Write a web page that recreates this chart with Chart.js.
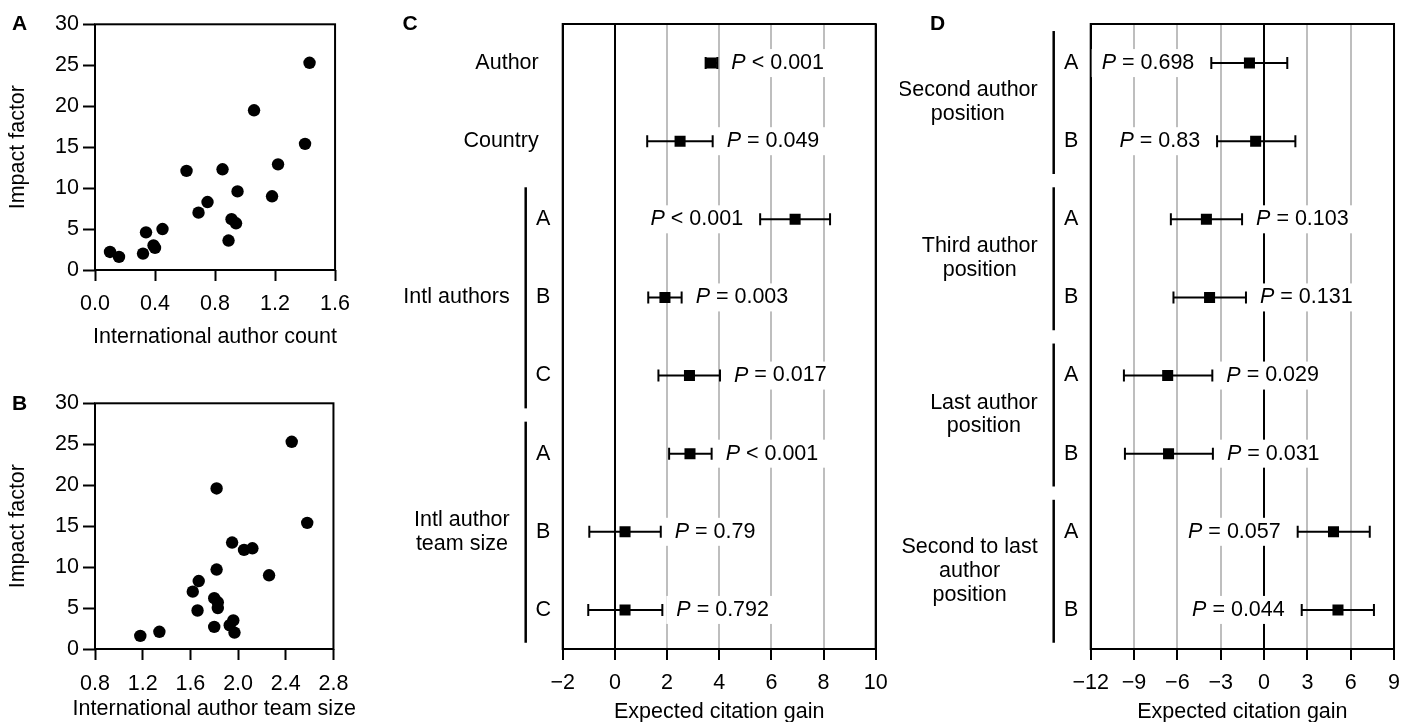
<!DOCTYPE html>
<html>
<head>
<meta charset="utf-8">
<script src="https://cdn.jsdelivr.net/npm/chart.js@4.4.1/dist/chart.umd.min.js"></script>
<style>
  body { margin: 0; background: #fff; }
  #wrap { position: relative; width: 1410px; height: 722px; overflow: hidden; }
  canvas { position: absolute; }
</style>
</head>
<body>
<div id="wrap">
  <canvas id="chartA" width="360" height="360" style="left:0px;top:0px"></canvas>
  <canvas id="chartB" width="360" height="362" style="left:0px;top:360px"></canvas>
  <canvas id="chartC" width="540" height="722" style="left:360px;top:0px"></canvas>
  <canvas id="chartD" width="510" height="722" style="left:900px;top:0px"></canvas>
</div>
<script>
// ---- panel A: impact factor vs international author count
const A_COUNT  = [0.10, 0.16, 0.32, 0.34, 0.39, 0.40, 0.45, 0.61, 0.69, 0.75, 0.85, 0.89, 0.91, 0.94, 0.95, 1.06, 1.18, 1.22, 1.40, 1.43];
const A_IMPACT = [2.2, 1.6, 2.0, 4.6, 3.0, 2.7, 5.0, 12.1, 7.0, 8.3, 12.3, 3.6, 6.2, 5.7, 9.6, 19.5, 9.0, 12.9, 15.4, 25.3];
const A_XTICKS  = [0, 0.4, 0.8, 1.2, 1.6];
const A_XLABELS = ['0.0', '0.4', '0.8', '1.2', '1.6'];

// ---- panel B: impact factor vs international author team size
const B_TEAM   = [1.18, 1.34, 1.62, 1.66, 1.67, 1.80, 1.80, 1.82, 1.82, 1.83, 1.83, 1.93, 1.95, 1.96, 1.97, 2.05, 2.12, 2.26, 2.45, 2.58];
const B_IMPACT = [1.6, 2.1, 7.0, 4.7, 8.3, 6.2, 2.7, 19.6, 9.7, 5.7, 5.0, 2.9, 13.0, 3.5, 2.0, 12.1, 12.3, 9.0, 25.3, 15.4];
const B_XTICKS  = [0.8, 1.2, 1.6, 2.0, 2.4, 2.8];
const B_XLABELS = ['0.8', '1.2', '1.6', '2.0', '2.4', '2.8'];

const IF_TICKS = [0, 5, 10, 15, 20, 25, 30];

// ---- panel C: expected citation gain
const C_LABELS = ['Author', 'Country', '', '', '', '', '', ''];
const C_SUB    = ['', '', 'A', 'B', 'C', 'A', 'B', 'C'];
const C_GROUPS = [['Intl authors'], ['Intl author', 'team size']];
const C_FROM   = [3, 6];
const C_TO     = [5, 8];
const C_EST    = [3.70, 2.50, 6.91, 1.92, 2.86, 2.88, 0.39, 0.39];
const C_LO     = [3.48, 1.24, 5.57, 1.28, 1.67, 2.08, -0.98, -1.02];
const C_HI     = [3.93, 3.75, 8.25, 2.56, 4.03, 3.71, 1.76, 1.82];
const C_P      = ['< 0.001', '= 0.049', '< 0.001', '= 0.003', '= 0.017', '< 0.001', '= 0.79', '= 0.792'];
const C_SIDE   = ['right', 'right', 'left', 'right', 'right', 'right', 'right', 'right'];
const C_TICKS  = [-2, 0, 2, 4, 6, 8, 10];
const C_TICKLABELS = ['\u22122', '0', '2', '4', '6', '8', '10'];

// ---- panel D: expected citation gain by author position
const D_LABELS = ['', '', '', '', '', '', '', ''];
const D_SUB    = ['A', 'B', 'A', 'B', 'A', 'B', 'A', 'B'];
const D_GROUPS = [['Second author', 'position'], ['Third author', 'position'], ['Last author', 'position'], ['Second to last', 'author', 'position']];
const D_FROM   = [1, 3, 5, 7];
const D_TO     = [2, 4, 6, 8];
const D_EST    = [-1.01, -0.58, -3.99, -3.77, -6.67, -6.61, 4.81, 5.12];
const D_LO     = [-3.65, -3.25, -6.45, -6.27, -9.70, -9.63, 2.33, 2.61];
const D_HI     = [1.61, 2.17, -1.52, -1.25, -3.58, -3.54, 7.32, 7.61];
const D_P      = ['= 0.698', '= 0.83', '= 0.103', '= 0.131', '= 0.029', '= 0.031', '= 0.057', '= 0.044'];
const D_SIDE   = ['left', 'left', 'right', 'right', 'right', 'right', 'left', 'left'];
const D_TICKS  = [-12, -9, -6, -3, 0, 3, 6, 9];
const D_TICKLABELS = ['\u221212', '\u22129', '\u22126', '\u22123', '0', '3', '6', '9'];

const FAMILY = '"Liberation Sans", Arial, Helvetica, sans-serif';
const FS = 21.5;
const FONT = FS + 'px ' + FAMILY;

Chart.defaults.font.family = FAMILY;
Chart.defaults.font.size = FS;
Chart.defaults.color = '#000';

// box around the plotting area, like R's box()
const framePlugin = {
    id: 'frame',
    beforeDatasetsDraw(chart) {
        const ctx = chart.ctx, a = chart.chartArea;
        ctx.save();
        ctx.strokeStyle = '#000';
        ctx.lineWidth = 2;
        ctx.strokeRect(a.left, a.top, a.right - a.left, a.bottom - a.top);
        ctx.restore();
    }
};

function letterPlugin(letter, x, y) {
    return {
        id: 'letter',
        afterDraw(chart) {
            const ctx = chart.ctx;
            ctx.save();
            ctx.font = 'bold 21px ' + FAMILY;
            ctx.fillStyle = '#000';
            ctx.textAlign = 'left';
            ctx.textBaseline = 'alphabetic';
            ctx.fillText(letter, x, y);
            ctx.restore();
        }
    };
}

// x title drawn by hand so long titles are not squeezed to the axis width
function xTitlePlugin(text, y) {
    return {
        id: 'xTitle',
        afterDraw(chart) {
            const ctx = chart.ctx, a = chart.chartArea;
            ctx.save();
            ctx.font = FONT;
            ctx.fillStyle = '#000';
            ctx.textAlign = 'center';
            ctx.textBaseline = 'middle';
            ctx.fillText(text, (a.left + a.right) / 2, y);
            ctx.restore();
        }
    };
}

function setTicks(values) {
    return (scale) => { scale.ticks = values.map(v => ({ value: v })); };
}

function scatterConfig(xs, ys, xTicks, xLabels, xTitle, lay) {
    return {
        type: 'scatter',
        data: {
            datasets: [{
                data: xs.map((x, i) => ({ x: x, y: ys[i] })),
                pointRadius: 6.2,
                pointBackgroundColor: '#000',
                pointBorderWidth: 0,
            }]
        },
        options: {
            responsive: false,
            animation: false,
            events: [],
            layout: { padding: { left: 0, right: 19.3, top: lay.top, bottom: 0 } },
            plugins: { legend: { display: false }, tooltip: { enabled: false } },
            scales: {
                x: {
                    type: 'linear',
                    min: xTicks[0],
                    max: xTicks[xTicks.length - 1],
                    afterBuildTicks: setTicks(xTicks),
                    afterFit: (s) => { s.height = lay.xHeight; },
                    border: { display: false },
                    grid: { drawOnChartArea: false, tickLength: 11, tickColor: '#000', tickWidth: 2 },
                    ticks: { padding: lay.tickPad, autoSkip: false, maxRotation: 0, callback: (v, i) => xLabels[i] },
                    title: { display: false }
                },
                y: {
                    type: 'linear',
                    min: 0,
                    max: 30,
                    afterBuildTicks: setTicks(IF_TICKS),
                    afterFit: (s) => { s.width = 95; },
                    border: { display: false },
                    grid: { drawOnChartArea: false, tickLength: 12, tickColor: '#000', tickWidth: 2 },
                    ticks: { padding: 4, autoSkip: false },
                    title: { display: true, text: 'Impact factor', padding: { top: 5, bottom: 0 } }
                }
            }
        },
        plugins: [framePlugin, xTitlePlugin(xTitle, lay.titleY), letterPlugin(lay.letter, 12, lay.letterY)]
    };
}

// P value with italic P and a white box behind it
function drawP(ctx, x, y, rest, side) {
    ctx.font = 'italic ' + FONT;
    const wP = ctx.measureText('P').width;
    ctx.font = FONT;
    const wR = ctx.measureText(' ' + rest).width;
    const w = wP + wR;
    const x0 = side === 'left' ? x - w : x;
    ctx.fillStyle = '#fff';
    ctx.fillRect(x0 - 10, y - 14, w + 20, 28);
    ctx.fillStyle = '#000';
    ctx.textAlign = 'left';
    ctx.font = 'italic ' + FONT;
    ctx.fillText('P', x0, y);
    ctx.font = FONT;
    ctx.fillText(' ' + rest, x0 + wP, y);
}

function forestText(f) {
    return {
        id: 'forestText',
        afterDatasetsDraw(chart) {
            const ctx = chart.ctx, xs = chart.scales.x, ys = chart.scales.y;
            const left = chart.chartArea.left;
            ctx.save();
            ctx.textBaseline = 'middle';
            ctx.fillStyle = '#000';
            ctx.strokeStyle = '#000';
            ctx.font = FONT;

            f.labels.forEach((t, i) => {
                if (!t) return;
                ctx.textAlign = 'right';
                ctx.fillText(t, left - 24, ys.getPixelForValue(i + 1));
            });
            f.sub.forEach((t, i) => {
                if (!t) return;
                ctx.textAlign = 'center';
                ctx.fillText(t, left - 19.5, ys.getPixelForValue(i + 1));
            });
            f.groups.forEach((lines, g) => {
                const y0 = ys.getPixelForValue(f.from[g] - 0.41);
                const y1 = ys.getPixelForValue(f.to[g] + 0.42);
                ctx.lineWidth = 2.5;
                ctx.beginPath();
                ctx.moveTo(left - 37, y0);
                ctx.lineTo(left - 37, y1);
                ctx.stroke();
                const yc = (ys.getPixelForValue(f.from[g]) + ys.getPixelForValue(f.to[g])) / 2;
                const maxW = Math.max(...lines.map(l => ctx.measureText(l).width));
                const cx = left - 53 - maxW / 2;
                ctx.textAlign = 'center';
                lines.forEach((l, k) => {
                    ctx.fillText(l, cx, yc + (k - (lines.length - 1) / 2) * 23.8);
                });
            });

            f.p.forEach((t, i) => {
                const y = ys.getPixelForValue(i + 1);
                if (f.side[i] === 'left') {
                    drawP(ctx, xs.getPixelForValue(f.lo[i]) - 17, y, t, 'left');
                } else {
                    drawP(ctx, xs.getPixelForValue(f.hi[i]) + 14, y, t, 'right');
                }
            });
            ctx.restore();
        }
    };
}

function forestConfig(f) {
    const datasets = [];
    // one whisker per row, capped with vertical 'line' points
    for (let i = 0; i < f.est.length; i++) {
        datasets.push({
            data: [{ x: f.lo[i], y: i + 1 }, { x: f.hi[i], y: i + 1 }],
            showLine: true,
            borderColor: '#000',
            borderWidth: 2,
            pointStyle: 'line',
            pointRotation: 90,
            pointRadius: 6,
            pointBorderColor: '#000',
            pointBorderWidth: 2,
        });
    }
    datasets.push({
        data: f.est.map((v, i) => ({ x: v, y: i + 1 })),
        pointStyle: 'rect',
        pointRadius: 7.8,
        pointBackgroundColor: '#000',
        pointBorderWidth: 0,
    });

    const tmin = f.ticks[0], tmax = f.ticks[f.ticks.length - 1];
    return {
        type: 'scatter',
        data: { datasets: datasets },
        options: {
            responsive: false,
            animation: false,
            events: [],
            layout: { padding: { left: f.padLeft, right: f.padRight, top: 24, bottom: 0 } },
            plugins: { legend: { display: false }, tooltip: { enabled: false } },
            scales: {
                x: {
                    type: 'linear',
                    min: tmin,
                    max: tmax,
                    afterBuildTicks: setTicks(f.ticks),
                    afterFit: (s) => { s.height = 73; },
                    border: { display: false },
                    grid: {
                        color: (c) => (c.tick && (c.tick.value === 0 || c.tick.value === tmin || c.tick.value === tmax)) ? '#000' : '#bebebe',
                        lineWidth: 2,
                        tickLength: 11,
                        tickColor: '#000',
                        tickWidth: 2
                    },
                    ticks: { padding: 10, autoSkip: false, maxRotation: 0, callback: (v, i) => f.tickLabels[i] },
                    title: { display: true, text: 'Expected citation gain', padding: { top: 0, bottom: -2.5 } }
                },
                y: { type: 'linear', min: 0.5, max: 8.5, reverse: true, display: false }
            }
        },
        plugins: [framePlugin, forestText(f), letterPlugin(f.letter, f.letterX, 29.5)]
    };
}

function main() {
    new Chart(document.getElementById('chartA').getContext('2d'),
        scatterConfig(A_COUNT, A_IMPACT, A_XTICKS, A_XLABELS, 'International author count',
            { top: 24.3, xHeight: 90, tickPad: 10, titleY: 337.5, letter: 'A', letterY: 29.5 }));

    new Chart(document.getElementById('chartB').getContext('2d'),
        scatterConfig(B_TEAM, B_IMPACT, B_XTICKS, B_XLABELS, 'International author team size',
            { top: 43.3, xHeight: 73, tickPad: 11.6, titleY: 349, letter: 'B', letterY: 50 }));

    new Chart(document.getElementById('chartC').getContext('2d'), forestConfig({
        labels: C_LABELS, sub: C_SUB, groups: C_GROUPS, from: C_FROM, to: C_TO,
        est: C_EST, lo: C_LO, hi: C_HI, p: C_P, side: C_SIDE,
        ticks: C_TICKS, tickLabels: C_TICKLABELS,
        padLeft: 202.7, padRight: 24.3, letter: 'C', letterX: 42.5
    }));

    new Chart(document.getElementById('chartD').getContext('2d'), forestConfig({
        labels: D_LABELS, sub: D_SUB, groups: D_GROUPS, from: D_FROM, to: D_TO,
        est: D_EST, lo: D_LO, hi: D_HI, p: D_P, side: D_SIDE,
        ticks: D_TICKS, tickLabels: D_TICKLABELS,
        padLeft: 190.7, padRight: 6.7, letter: 'D', letterX: 30
    }));
}

main();
</script>
</body>
</html>
